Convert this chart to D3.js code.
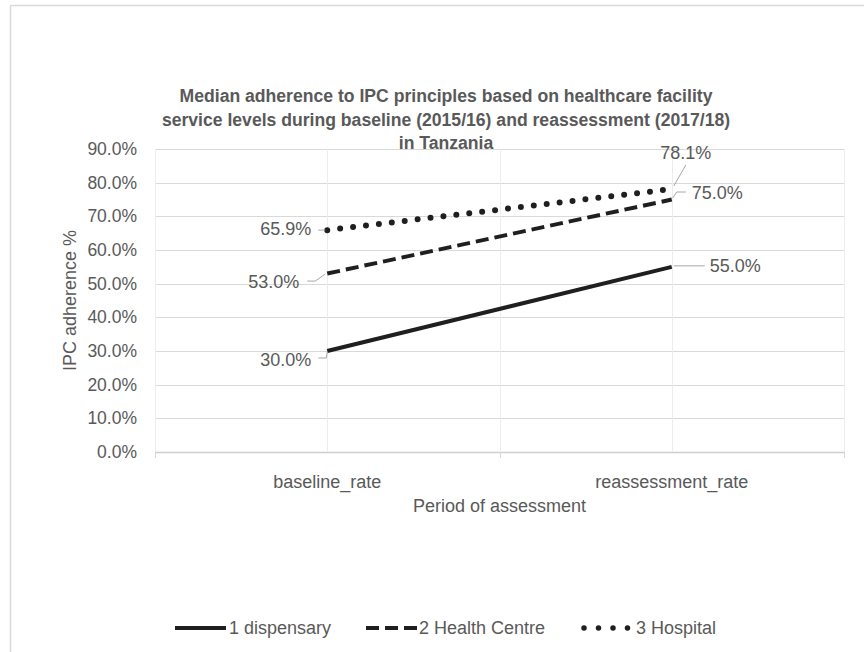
<!DOCTYPE html>
<html>
<head>
<meta charset="utf-8">
<script src="https://cdn.jsdelivr.net/npm/d3@7/dist/d3.min.js"></script>
<style>
  body { margin: 0; background: #fff; }
  text { font-family: "Liberation Sans", Arial, sans-serif; }
</style>
</head>
<body>
<svg id="chart" width="864" height="652"></svg>
<script>
// ---- data ----
const periods = ["baseline_rate", "reassessment_rate"];
const seriesNames = ["1 dispensary", "2 Health Centre", "3 Hospital"];
const dispensary = [0.300, 0.550];
const healthCentre = [0.530, 0.750];
const hospital = [0.659, 0.781];
const yTicks = [0, 0.1, 0.2, 0.3, 0.4, 0.5, 0.6, 0.7, 0.8, 0.9];
const titleLines = [
  "Median adherence to IPC principles based on healthcare facility",
  "service levels during baseline (2015/16) and reassessment (2017/18)",
  "in Tanzania"
];
const yTitle = "IPC adherence %";
const xTitle = "Period of assessment";

// ---- styling ----
const textColor = "#595959";
const gridColor = "#d9d9d9";
const lineColor = "#1f1f1f";
const leaderColor = "#a6a6a6";
const fs = 18;
const fmt = d3.format(".1%");

const svg = d3.select("#chart");
const margin = { left: 155, right: 864 - 844, top: 149, bottom: 652 - 452 };
const W = 864, H = 652;

// chart area frame
svg.append("rect").attr("x", 10.5).attr("y", 5.5).attr("width", 900).attr("height", 700)
  .attr("fill", "#fff").attr("stroke", "#d9d9d9").attr("stroke-width", 1.5);

const x = d3.scaleBand().domain(periods).range([margin.left, W - margin.right]);
const y = d3.scaleLinear().domain([0, 0.9]).range([H - margin.bottom, margin.top]);
const cx = p => x(p) + x.bandwidth() / 2;

// title
const title = svg.append("text").attr("text-anchor", "middle").attr("fill", textColor)
  .attr("font-size", 17.6).attr("font-weight", "bold");
titleLines.forEach((t, i) => {
  title.append("tspan").attr("x", 446).attr("y", 102 + i * 23.5).text(t);
});

// horizontal grid
svg.append("g").selectAll("line").data(yTicks).join("line")
  .attr("x1", x.range()[0]).attr("x2", x.range()[1])
  .attr("y1", d => Math.round(y(d)) + 0.5).attr("y2", d => Math.round(y(d)) + 0.5)
  .attr("stroke", (d) => d === 0 ? "#cfcfcf" : gridColor).attr("stroke-width", d => d === 0 ? 1.5 : 1.2);

// vertical grid at band edges and centres
const xEdges = [x.range()[0], ...periods.map(p => x(p) + x.bandwidth())];
const xCentres = periods.map(cx);
svg.append("g").selectAll("line").data([...xEdges, ...xCentres]).join("line")
  .attr("x1", d => Math.round(d) + 0.5).attr("x2", d => Math.round(d) + 0.5)
  .attr("y1", y(0.9)).attr("y2", y(0))
  .attr("stroke", "#ececec").attr("stroke-width", 1);

// category tick marks below the axis
svg.append("g").selectAll("line").data(xEdges).join("line")
  .attr("x1", d => Math.round(d) + 0.5).attr("x2", d => Math.round(d) + 0.5)
  .attr("y1", y(0)).attr("y2", y(0) + 6)
  .attr("stroke", gridColor).attr("stroke-width", 1);

// y axis labels
const yAxis = d3.axisLeft(y).tickValues(yTicks).tickFormat(fmt).tickSize(0).tickPadding(18);
const gy = svg.append("g").attr("transform", `translate(${x.range()[0]},0)`).call(yAxis);
gy.select(".domain").remove();
gy.selectAll("text").attr("fill", textColor).attr("font-size", 17.5)
  .attr("font-family", '"Liberation Sans", Arial, sans-serif');

// x axis labels
const xAxis = d3.axisBottom(x).tickSize(0).tickPadding(23);
const gx = svg.append("g").attr("transform", `translate(0,${y(0)})`).call(xAxis);
gx.select(".domain").remove();
gx.selectAll("text").attr("fill", textColor).attr("font-size", fs)
  .attr("font-family", '"Liberation Sans", Arial, sans-serif');

// axis titles
svg.append("text").attr("x", (x.range()[0] + x.range()[1]) / 2).attr("y", 512)
  .attr("text-anchor", "middle").attr("fill", textColor).attr("font-size", fs).text(xTitle);
svg.append("text").attr("transform", `translate(76,${(y(0) + y(0.9)) / 2}) rotate(-90)`)
  .attr("text-anchor", "middle").attr("fill", textColor).attr("font-size", fs).text(yTitle);

// series
const series = [
  { name: seriesNames[0], values: dispensary, dash: null, width: 4, cap: "butt" },
  { name: seriesNames[1], values: healthCentre, dash: "13,6", width: 4, cap: "butt" },
  { name: seriesNames[2], values: hospital, dash: "0,13", width: 6, cap: "round" }
];

const line = d3.line().x((d, i) => cx(periods[i])).y(d => y(d));
series.forEach(s => {
  svg.append("path").datum(s.values).attr("d", line)
    .attr("fill", "none").attr("stroke", lineColor).attr("stroke-width", s.width)
    .attr("stroke-linecap", s.cap).attr("stroke-dasharray", s.dash);
});

// data labels with leader lines: [series index, period index, anchor, label dx, dy, leader points]
const labelLayout = [
  [2, 0, "end", -16, -1, [[-9, 0], [-2, 0]]],
  [1, 0, "end", -28, 8.5, [[-20, 7.5], [-12, 7.5], [-2, 0.5]]],
  [0, 0, "end", -16, 9, [[-9, 7], [-1, 7], [0, 1]]],
  [2, 1, "middle", 14, -36, [[14, -24], [2, -3]]],
  [1, 1, "start", 20, -6.5, [[14, -7.5], [5, -7.5], [1, -1.5]]],
  [0, 1, "start", 38, -1, [[33, -1], [2, -1]]]
];
labelLayout.forEach(([si, pi, anchor, dx, dy, pts]) => {
  const v = series[si].values[pi];
  const px = cx(periods[pi]), py = y(v);
  svg.append("path")
    .attr("d", d3.line()(pts.map(([a, b]) => [px + a, py + b])))
    .attr("fill", "none").attr("stroke", leaderColor).attr("stroke-width", 1);
  svg.append("text").attr("x", px + dx).attr("y", py + dy).attr("dy", "0.35em")
    .attr("text-anchor", anchor).attr("fill", textColor).attr("font-size", fs)
    .text(fmt(v));
});

// legend
const legendItems = [
  { s: series[0], x0: 175, tx: 229 },
  { s: series[1], x0: 366, tx: 419 },
  { s: series[2], x0: 581, tx: 636 }
];
const ly = 628;
legendItems.forEach(it => {
  const round = it.s.cap === "round";
  svg.append("line").attr("x1", it.x0 + (round ? 3 : 0)).attr("x2", it.x0 + (round ? 48 : 51))
    .attr("y1", ly).attr("y2", ly)
    .attr("stroke", lineColor).attr("stroke-width", round ? 5.5 : it.s.width)
    .attr("stroke-linecap", it.s.cap).attr("stroke-dasharray", round ? "0,14.5" : it.s.dash);
  svg.append("text").attr("x", it.tx).attr("y", ly).attr("dy", "0.35em")
    .attr("fill", textColor).attr("font-size", fs).text(it.s.name);
});
</script>
</body>
</html>
